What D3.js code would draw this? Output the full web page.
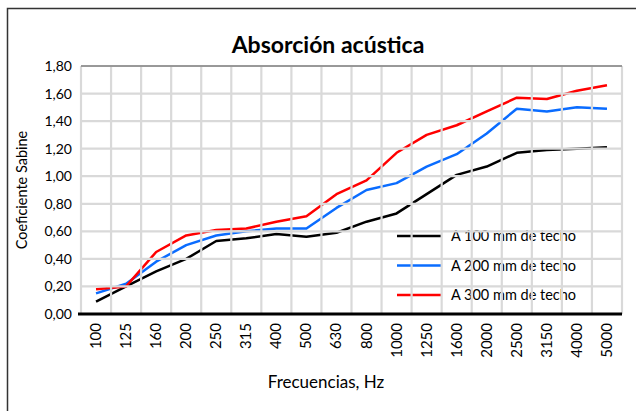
<!DOCTYPE html>
<html>
<head>
<meta charset="utf-8">
<script src="https://cdn.jsdelivr.net/npm/d3@7"></script>
<style>
  body { margin: 0; background: #fff; }
  text { font-family: Lato, "Open Sans", sans-serif; fill: #000; }
</style>
</head>
<body>
<div id="chart"></div>
<script>
var frecuencias = ["100","125","160","200","250","315","400","500","630","800","1000","1250","1600","2000","2500","3150","4000","5000"];
var a100 = [0.09,0.20,0.31,0.40,0.53,0.55,0.58,0.56,0.59,0.67,0.73,0.87,1.01,1.07,1.17,1.19,1.20,1.21];
var a200 = [0.15,0.22,0.38,0.50,0.57,0.60,0.62,0.62,0.77,0.90,0.95,1.07,1.16,1.31,1.49,1.47,1.50,1.49];
var a300 = [0.18,0.20,0.45,0.57,0.61,0.62,0.67,0.71,0.87,0.97,1.17,1.30,1.37,1.47,1.57,1.56,1.62,1.66];
var nombres = ["A 100 mm de techo","A 200 mm de techo","A 300 mm de techo"];
var colores = ["#000000","#0a6cff","#ff0000"];
var yTicks = [0,0.2,0.4,0.6,0.8,1.0,1.2,1.4,1.6,1.8];

var width = 636, height = 411;
var pLeft = 81, pRight = 622, pTop = 66, pBottom = 314;

var svg = d3.select("#chart").append("svg")
  .attr("width", width)
  .attr("height", height);

// marco exterior
svg.append("rect")
  .attr("x", 7.5).attr("y", 8.5)
  .attr("width", width).attr("height", height)
  .attr("fill", "none")
  .attr("stroke", "#333")
  .attr("stroke-width", 1.5);

var x = d3.scaleBand().domain(frecuencias).range([pLeft, pRight]);
var y = d3.scaleLinear().domain([0, 1.8]).range([pBottom, pTop]);

var series = [a100, a200, a300];

// leyenda (queda debajo de la rejilla, como en el original)
var leg = svg.append("g");
series.forEach(function(s, i) {
  var ly = 236 + i * 29.5;
  leg.append("line")
    .attr("x1", 397).attr("x2", 442)
    .attr("y1", ly).attr("y2", ly)
    .attr("stroke", colores[i])
    .attr("stroke-width", 2.5);
  leg.append("text")
    .attr("x", 451).attr("y", ly + 5)
    .style("font-size", "14.5px")
    .text(nombres[i]);
});

// series
var line = d3.line()
  .x(function(d, i) { return x(frecuencias[i]) + x.bandwidth() / 2; })
  .y(function(d) { return y(d); });

series.forEach(function(s, i) {
  svg.append("path")
    .datum(s)
    .attr("d", line)
    .attr("fill", "none")
    .attr("stroke", colores[i])
    .attr("stroke-width", 2.5)
    .attr("stroke-linejoin", "round");
});

// rejilla por encima
var grid = svg.append("g");
yTicks.forEach(function(t) {
  if (t === 0) return;
  grid.append("line")
    .attr("x1", pLeft).attr("x2", pRight)
    .attr("y1", y(t)).attr("y2", y(t))
    .attr("stroke", "#d9d9d9")
    .attr("stroke-width", 2.2);
});
var bounds = frecuencias.map(function(f) { return x(f); }).concat([pRight]);
bounds.forEach(function(bx) {
  grid.append("line")
    .attr("x1", bx).attr("x2", bx)
    .attr("y1", pTop).attr("y2", pBottom)
    .attr("stroke", "#d9d9d9")
    .attr("stroke-width", 2.2);
});
grid.append("line")
  .attr("x1", pLeft).attr("x2", pRight)
  .attr("y1", pTop).attr("y2", pTop)
  .attr("stroke", "#595959")
  .attr("stroke-width", 1);

// eje x
svg.append("line")
  .attr("x1", pLeft - 3).attr("x2", pRight)
  .attr("y1", pBottom).attr("y2", pBottom)
  .attr("stroke", "#000")
  .attr("stroke-width", 3);

// etiquetas eje y
svg.append("g").selectAll("text")
  .data(yTicks)
  .join("text")
  .attr("x", 72)
  .attr("y", function(d) { return y(d) + 5; })
  .attr("text-anchor", "end")
  .style("font-size", "14px")
  .text(function(d) { return d3.format(".2f")(d).replace(".", ","); });

// etiquetas eje x
svg.append("g").selectAll("text")
  .data(frecuencias)
  .join("text")
  .attr("transform", function(d) {
    return "translate(" + (x(d) + x.bandwidth() / 2 + 5) + "," + 323 + ") rotate(-90)";
  })
  .attr("text-anchor", "end")
  .style("font-size", "15px")
  .text(function(d) { return d; });

// títulos
svg.append("text")
  .attr("x", 328).attr("y", 53)
  .attr("text-anchor", "middle")
  .style("font-size", "23px")
  .style("font-weight", "bold")
  .text("Absorción acústica");

svg.append("text")
  .attr("x", 326).attr("y", 388)
  .attr("text-anchor", "middle")
  .style("font-size", "17px")
  .text("Frecuencias, Hz");

svg.append("text")
  .attr("transform", "translate(27,190) rotate(-90)")
  .attr("text-anchor", "middle")
  .style("font-size", "14.5px")
  .text("Coeficiente Sabine");
</script>
</body>
</html>
